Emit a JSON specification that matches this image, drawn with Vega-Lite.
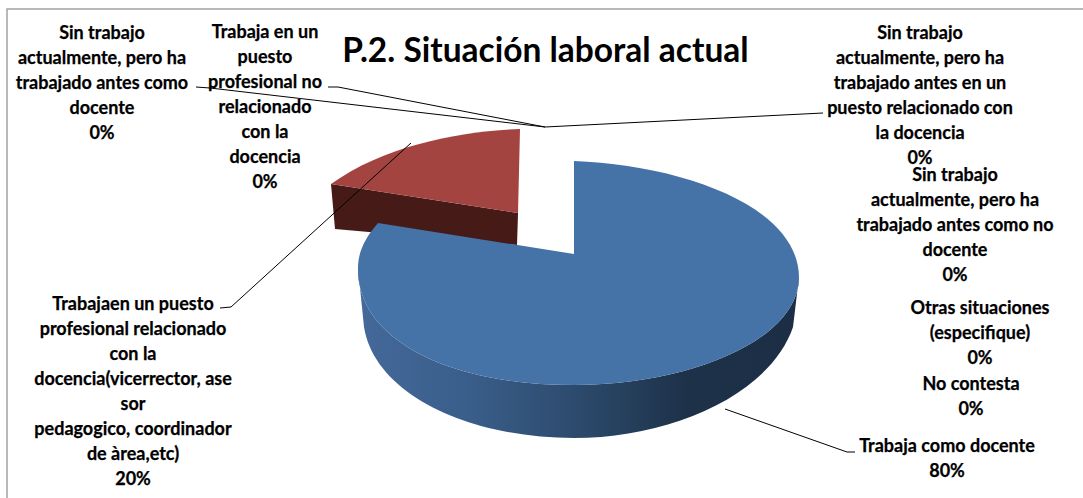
{
  "$schema": "https://vega.github.io/schema/vega-lite/v6.json",
  "width": 1083, "height": 498, "autosize": "none", "padding": 0, "background": "white",
  "config": {"view": {"stroke": null}},
  "title": {"text": "P.2. Situación laboral actual", "font": "Lato", "fontWeight": "bold", "fontSize": 33.5, "color": "#000000", "anchor": "middle", "dx": 4, "offset": -102, "baseline": "bottom"},
  "data": {"values": [
    {"orden": 1, "situacion": "Trabaja como docente", "pct": 80, "texto": "Trabaja como docente"},
    {"orden": 2, "situacion": "Trabajan en un puesto profesional relacionado con la docencia", "pct": 20, "texto": "Trabajaen un puesto\nprofesional relacionado\ncon la\ndocencia(vicerrector, ase\nsor\npedagogico, coordinador\nde àrea,etc)"},
    {"orden": 3, "situacion": "Trabaja en un puesto profesional no relacionado con la docencia", "pct": 0, "texto": "Trabaja en un\npuesto\nprofesional no\nrelacionado\ncon la\ndocencia"},
    {"orden": 4, "situacion": "Sin trabajo, ha trabajado como docente", "pct": 0, "texto": "Sin trabajo\nactualmente, pero ha\ntrabajado antes como\ndocente"},
    {"orden": 5, "situacion": "Sin trabajo, puesto relacionado con la docencia", "pct": 0, "texto": "Sin trabajo\nactualmente, pero ha\ntrabajado antes en un\npuesto relacionado con\nla docencia"},
    {"orden": 6, "situacion": "Sin trabajo, ha trabajado como no docente", "pct": 0, "texto": "Sin trabajo\nactualmente, pero ha\ntrabajado antes como no\ndocente"},
    {"orden": 7, "situacion": "Otras situaciones", "pct": 0, "texto": "Otras situaciones\n(especifique)"},
    {"orden": 8, "situacion": "No contesta", "pct": 0, "texto": "No contesta"}
  ]},
  "resolve": {"scale": {"shape": "independent"}},
  "layer": [
    {
      "transform": [{"filter": "datum.orden === 1"}],
      "mark": {"type": "point", "filled": false, "fill": null, "stroke": "#a3a3a3", "strokeWidth": 1.5, "opacity": 1, "size": 4},
      "encoding": {"shape": {"field": "orden", "type": "nominal", "legend": null, "scale": {"domain": [1], "range": ["M-534.5,249L-534.5,-240L541.5,-240"]}}}
    },
    {
      "transform": [{"filter": "datum.orden === 2"}],
      "mark": {"type": "point", "filled": true, "fill": "#451a17", "opacity": 1, "size": 4, "strokeWidth": 0, "shape": "M-210.5,-65L-23.5,-36L-24.5,-4L-206.5,-20Z"}
    },
    {
      "transform": [{"filter": "datum.orden === 2"}],
      "mark": {"type": "point", "filled": true, "fill": "#a44441", "opacity": 1, "size": 4, "strokeWidth": 0, "shape": "M-23.5,-36L-21.5,-120C-79.5,-118,-156.5,-104,-210.5,-65Z"}
    },
    {
      "transform": [{"filter": "datum.orden === 1"}],
      "mark": {"type": "point", "filled": true, "opacity": 1, "size": 4, "strokeWidth": 0,
        "fill": {"gradient": "linear", "x1": 0, "y1": 0, "x2": 1, "y2": 0, "stops": [
          {"offset": 0, "color": "#44699a"}, {"offset": 0.25, "color": "#3a5e8a"}, {"offset": 0.5, "color": "#2c4a6c"}, {"offset": 0.75, "color": "#1d3148"}, {"offset": 1, "color": "#1b2e45"}]},
        "shape": "M-183.5,19C-184.5,91,-91.5,136,32.5,136C148.5,136,257.5,91,257.5,28L251.5,78C228.5,146,128.5,189,32.5,189C-71.5,189,-166.5,146,-177.5,78ZM32.5,-88L35.5,5L32.5,5Z"}
    },
    {
      "transform": [{"filter": "datum.orden === 1"}],
      "mark": {"type": "point", "filled": true, "fill": "#4572a7", "opacity": 1, "size": 4, "strokeWidth": 0,
        "shape": "M32.5,5L32.5,-88C138.5,-84,256.5,-44,257.5,28C257.5,91,148.5,136,32.5,136C-91.5,136,-184.5,91,-183.5,19C-183.5,3,-176.5,-11,-163.5,-26Z"}
    },
    {
      "transform": [{"filter": "datum.orden <= 5"}],
      "mark": {"type": "point", "filled": false, "fill": null, "stroke": "#000000", "strokeWidth": 1, "opacity": 1, "size": 4},
      "encoding": {
        "shape": {"field": "orden", "type": "nominal", "legend": null, "scale": {
          "domain": [1, 2, 3, 4, 5],
          "range": [
            "M183.5,160L305.5,203L313.5,203",
            "M-321.5,59L-310.5,58L-130.5,-106",
            "M-213.5,-162L-203.5,-162L3.5,-122",
            "M-345.5,-162L-331.5,-161L3.5,-122",
            "M281.5,-136L3.5,-122"
          ]}}
      }
    },
    {
      "transform": [{"calculate": "datum.texto + '\\n' + datum.pct + '%'", "as": "etiqueta"}],
      "mark": {"type": "text", "font": "Lato", "fontWeight": "bold", "fontSize": 18, "align": "center", "baseline": "top", "lineBreak": "\n", "lineHeight": 25, "color": "#000000", "stroke": "#000000", "strokeWidth": 0.25},
      "encoding": {
        "x": {"field": "orden", "type": "quantitative", "axis": null, "scale": {"domain": [1, 2, 3, 4, 5, 6, 7, 8], "range": [947, 133, 265, 102, 920, 955, 980, 971], "nice": false, "zero": false}},
        "y": {"field": "orden", "type": "quantitative", "axis": null, "scale": {"domain": [1, 2, 3, 4, 5, 6, 7, 8], "range": [438, 296, 24, 25, 25, 167, 300, 376], "nice": false, "zero": false}},
        "text": {"field": "etiqueta", "type": "nominal"}
      }
    }
  ]
}
